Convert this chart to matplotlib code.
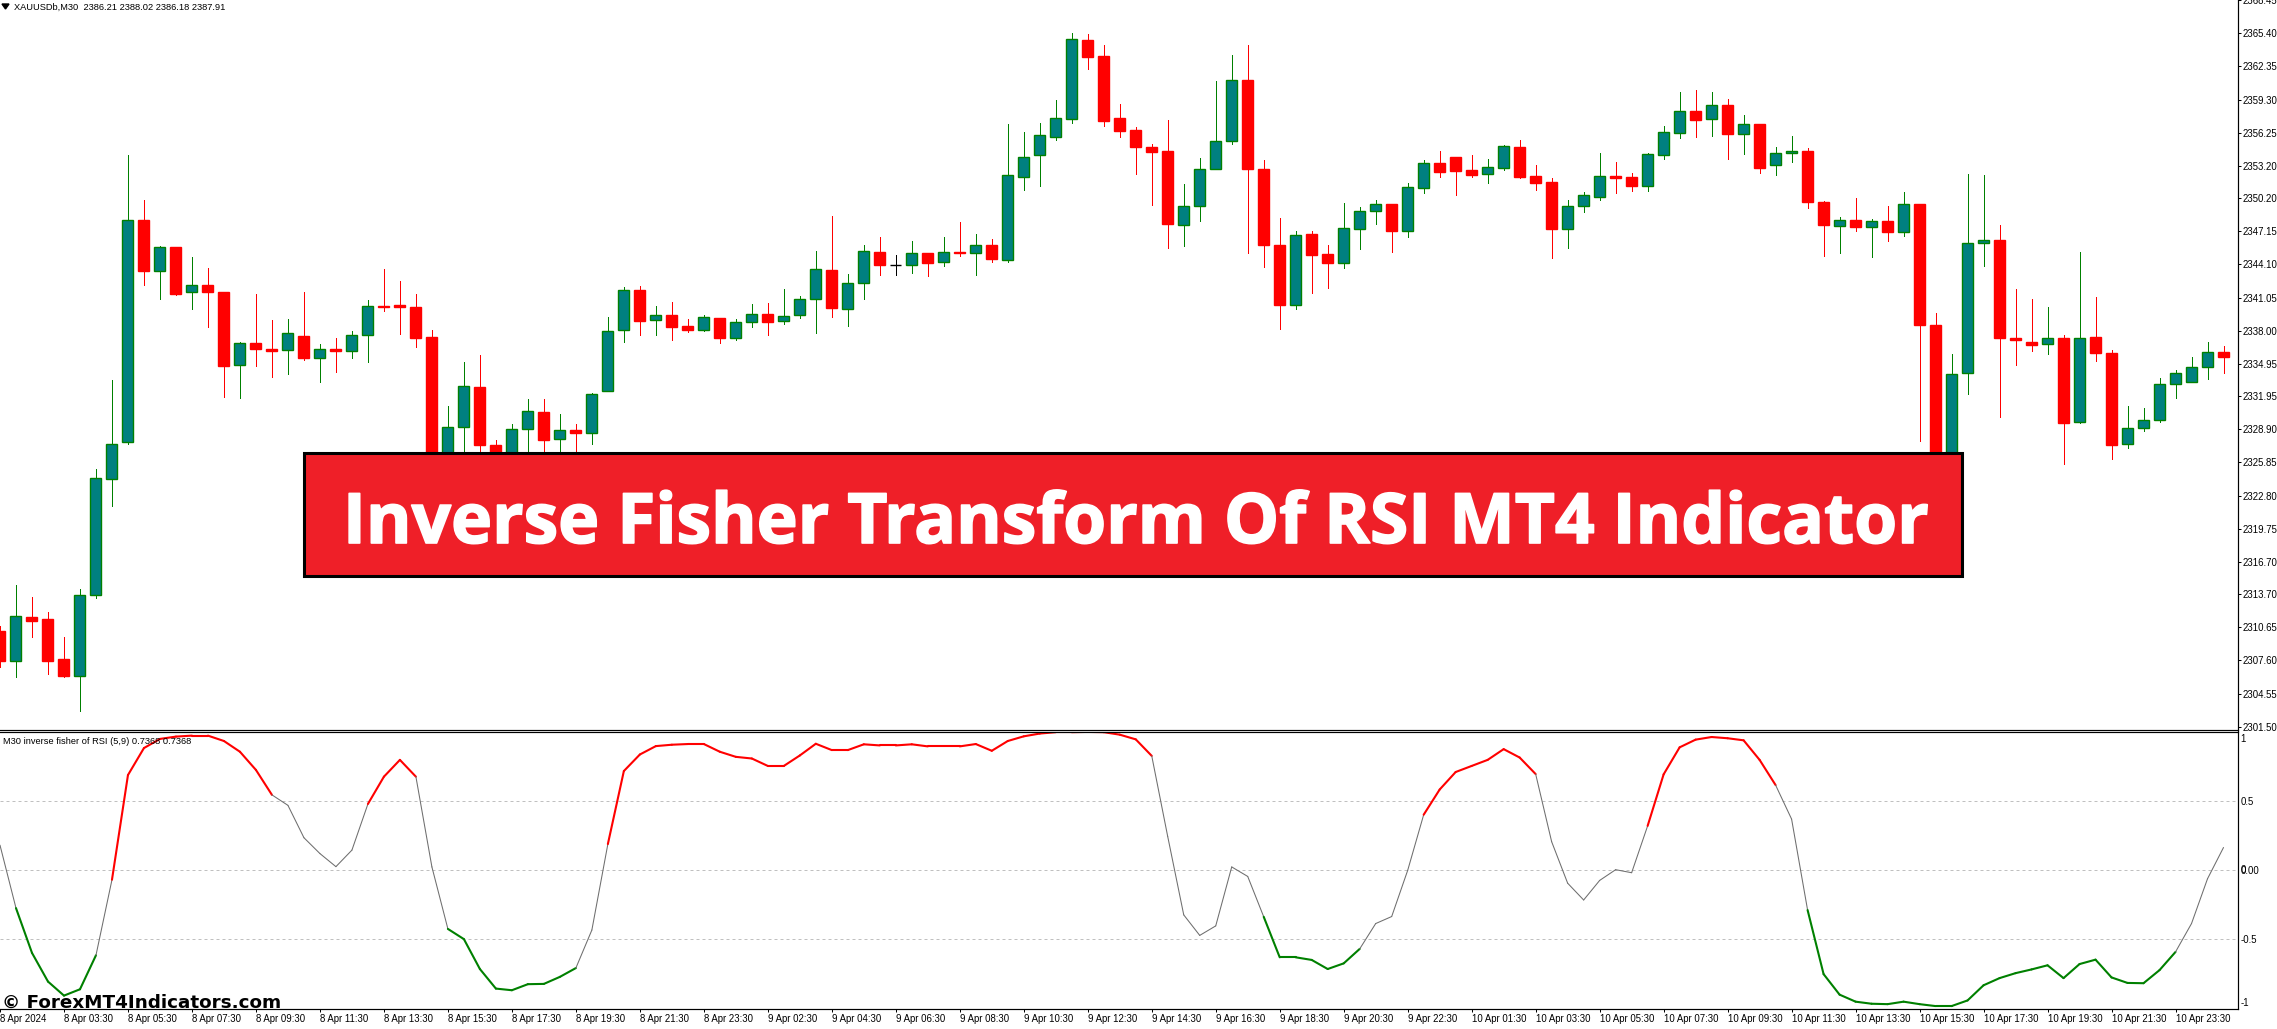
import matplotlib
matplotlib.use("Agg")
import matplotlib.pyplot as plt
import matplotlib.patheffects as pe
from matplotlib.patches import Rectangle

W, H = 2277, 1029

opens = [
 2310.32,2307.57,2311.57,2311.41,2307.73,2306.17,2313.60,2324.36,2327.71,2348.21,
 2343.45,2345.69,2341.52,2342.20,2341.55,2334.80,2336.85,2336.33,2336.18,2337.50,
 2335.44,2336.30,2336.09,2337.56,2340.29,2340.39,2340.20,2337.44,2325.00,2329.09,
 2332.83,2327.49,2326.00,2328.91,2330.50,2327.98,2328.84,2328.54,2332.40,2338.02,
 2341.74,2338.94,2339.43,2338.42,2338.08,2339.16,2337.28,2338.76,2339.56,2338.85,
 2339.40,2340.88,2343.58,2339.96,2342.35,2345.27,2344.04,2344.01,2345.14,2344.28,
 2345.23,2345.11,2345.88,2344.47,2352.20,2354.14,2355.89,2357.54,2364.76,2363.28,
 2357.60,2356.47,2354.93,2354.57,2347.69,2349.44,2352.94,2355.43,2361.07,2352.88,
 2345.88,2340.32,2346.89,2345.05,2344.19,2347.32,2348.98,2349.65,2347.14,2351.19,
 2353.43,2353.98,2352.79,2352.39,2353.00,2354.93,2352.23,2351.71,2347.32,2349.44,
 2350.36,2352.23,2352.14,2351.37,2354.23,2356.25,2358.22,2357.54,2358.77,2356.16,
 2357.02,2353.22,2354.41,2354.53,2349.84,2347.60,2348.18,2347.51,2348.09,2347.05,
 2349.65,2338.51,2325.50,2334.06,2346.03,2346.34,2337.32,2336.95,2336.73,2337.32,
 2329.55,2337.41,2335.93,2327.52,2328.99,2329.73,2333.05,2333.23,2334.61,2336.03]
highs = [
 2310.80,2314.56,2313.44,2312.07,2309.76,2314.16,2325.25,2333.48,2354.20,2350.05,
 2345.82,2345.69,2344.80,2343.79,2341.55,2336.98,2341.40,2339.00,2339.10,2341.58,
 2336.79,2337.35,2337.99,2340.84,2343.70,2342.60,2341.40,2338.08,2331.08,2335.13,
 2335.78,2327.95,2329.43,2331.73,2331.73,2330.35,2329.43,2332.25,2339.28,2342.04,
 2342.13,2340.29,2340.66,2339.10,2339.46,2339.16,2339.10,2340.48,2340.57,2341.86,
 2341.21,2345.36,2348.58,2343.24,2345.91,2346.65,2344.99,2346.28,2345.14,2346.65,
 2348.03,2346.92,2346.46,2357.05,2356.32,2357.14,2359.26,2365.43,2365.34,2364.33,
 2358.89,2356.78,2355.21,2357.42,2351.53,2353.92,2361.01,2363.41,2364.33,2353.74,
 2348.40,2347.20,2347.20,2345.91,2349.78,2349.41,2350.05,2349.65,2351.62,2353.74,
 2354.57,2353.98,2354.20,2353.83,2355.12,2355.58,2353.28,2352.08,2350.05,2350.79,
 2354.38,2353.55,2352.54,2354.38,2356.87,2360.00,2360.18,2360.00,2359.35,2357.88,
 2357.02,2354.93,2355.95,2354.84,2349.96,2348.49,2350.24,2348.30,2349.50,2350.79,
 2349.65,2339.65,2335.87,2352.45,2352.36,2347.75,2341.86,2340.94,2340.20,2337.59,
 2345.27,2341.12,2336.24,2331.08,2330.90,2333.66,2334.40,2335.60,2336.98,2336.61]
lows = [
 2307.00,2306.04,2309.76,2306.33,2306.04,2302.92,2313.40,2321.81,2327.59,2342.23,
 2340.94,2341.31,2340.02,2338.36,2331.91,2331.82,2334.77,2333.75,2334.03,2335.32,
 2333.30,2334.22,2335.50,2335.14,2339.83,2337.71,2336.52,2325.00,2324.00,2326.00,
 2326.94,2325.50,2325.50,2326.00,2326.00,2326.00,2326.00,2327.59,2332.40,2336.98,
 2337.62,2337.62,2337.16,2337.90,2337.99,2336.89,2337.16,2338.36,2337.62,2338.64,
 2339.19,2337.81,2339.28,2338.45,2340.94,2343.15,2343.15,2343.33,2343.06,2343.98,
 2344.90,2343.15,2344.34,2344.34,2350.97,2351.34,2355.58,2357.14,2362.12,2356.87,
 2355.85,2352.45,2349.59,2345.63,2345.82,2348.12,2352.94,2355.21,2345.17,2343.88,
 2338.18,2340.02,2341.49,2341.95,2343.79,2345.54,2347.84,2345.27,2346.65,2350.70,
 2352.17,2350.51,2352.17,2351.62,2352.82,2352.08,2350.97,2344.71,2345.63,2348.95,
 2350.05,2350.70,2350.88,2350.88,2353.83,2355.76,2355.85,2355.95,2353.83,2354.29,
 2352.54,2352.36,2353.55,2349.32,2344.90,2345.17,2347.20,2344.80,2346.28,2346.74,
 2327.86,2324.00,2325.00,2332.19,2343.98,2330.07,2334.86,2336.15,2335.87,2325.74,
 2329.46,2335.23,2326.20,2327.22,2328.78,2329.61,2331.82,2333.23,2333.57,2334.12]
closes = [
 2307.57,2311.66,2311.26,2307.57,2306.14,2313.60,2324.42,2327.55,2348.21,2343.45,
 2345.69,2341.40,2342.20,2341.52,2334.71,2336.85,2336.27,2336.15,2337.78,2335.44,
 2336.30,2336.09,2337.59,2340.26,2340.14,2340.14,2337.35,2325.50,2329.12,2332.90,
 2327.43,2326.00,2328.94,2330.59,2327.89,2328.84,2328.54,2332.16,2337.96,2341.74,
 2338.91,2339.43,2338.36,2338.08,2339.25,2337.28,2338.79,2339.53,2338.82,2339.34,
 2340.91,2343.67,2340.05,2342.38,2345.33,2344.01,2344.04,2345.14,2344.19,2345.23,
 2345.11,2345.88,2344.56,2352.32,2353.98,2356.01,2357.57,2364.85,2363.25,2357.36,
 2356.44,2354.96,2354.50,2347.87,2349.47,2352.88,2355.46,2361.07,2352.85,2345.85,
 2340.32,2346.80,2344.99,2344.19,2347.44,2349.01,2349.65,2347.14,2351.22,2353.43,
 2352.63,2352.72,2352.36,2353.06,2354.99,2352.20,2351.65,2347.32,2349.47,2350.48,
 2352.23,2352.11,2351.37,2354.26,2356.28,2358.22,2357.45,2358.77,2356.16,2357.02,
 2353.03,2354.35,2354.53,2349.81,2347.69,2348.18,2347.51,2348.09,2347.05,2349.65,
 2338.48,2325.50,2334.00,2346.06,2346.34,2337.28,2337.10,2336.64,2337.32,2329.46,
 2337.32,2335.90,2327.43,2329.03,2329.76,2333.08,2334.09,2334.64,2336.03,2335.60]
fisher = [
 0.178,-0.279,-0.604,-0.812,-0.914,-0.868,-0.621,-0.073,0.687,0.883,
 0.949,0.966,0.973,0.973,0.934,0.856,0.724,0.543,0.467,0.232,
 0.117,0.022,0.142,0.477,0.675,0.797,0.675,0.020,-0.430,-0.504,
 -0.721,-0.863,-0.875,-0.831,-0.829,-0.778,-0.714,-0.438,0.186,0.716,
 0.836,0.897,0.907,0.912,0.912,0.856,0.819,0.807,0.753,0.753,
 0.829,0.914,0.868,0.868,0.910,0.902,0.902,0.910,0.895,0.895,
 0.895,0.912,0.863,0.934,0.968,0.988,0.998,0.998,1.000,0.998,
 0.980,0.946,0.826,0.240,-0.328,-0.477,-0.408,0.020,-0.049,-0.342,
 -0.636,-0.636,-0.655,-0.721,-0.680,-0.575,-0.391,-0.340,-0.005,0.399,
 0.582,0.709,0.753,0.797,0.875,0.814,0.694,0.203,-0.098,-0.220,
 -0.078,0.000,-0.022,0.318,0.692,0.888,0.944,0.963,0.954,0.939,
 0.797,0.614,0.367,-0.293,-0.758,-0.907,-0.958,-0.973,-0.976,-0.958,
 -0.976,-0.990,-0.990,-0.949,-0.839,-0.787,-0.751,-0.724,-0.694,-0.787,
 -0.685,-0.653,-0.782,-0.822,-0.824,-0.729,-0.597,-0.391,-0.066,0.161]
price_labels = ["2368.45","2365.40","2362.35","2359.30","2356.25","2353.20","2350.20","2347.15",
 "2344.10","2341.05","2338.00","2334.95","2331.95","2328.90","2325.85","2322.80",
 "2319.75","2316.70","2313.70","2310.65","2307.60","2304.55","2301.50"]
time_labels = ["8 Apr 2024","8 Apr 03:30","8 Apr 05:30","8 Apr 07:30","8 Apr 09:30","8 Apr 11:30",
 "8 Apr 13:30","8 Apr 15:30","8 Apr 17:30","8 Apr 19:30","8 Apr 21:30","8 Apr 23:30",
 "9 Apr 02:30","9 Apr 04:30","9 Apr 06:30","9 Apr 08:30","9 Apr 10:30","9 Apr 12:30",
 "9 Apr 14:30","9 Apr 16:30","9 Apr 18:30","9 Apr 20:30","9 Apr 22:30","10 Apr 01:30",
 "10 Apr 03:30","10 Apr 05:30","10 Apr 07:30","10 Apr 09:30","10 Apr 11:30","10 Apr 13:30",
 "10 Apr 15:30","10 Apr 17:30","10 Apr 19:30","10 Apr 21:30","10 Apr 23:30"]
title_text = "Inverse Fisher Transform Of RSI MT4 Indicator"
chart_text = "XAUUSDb,M30  2386.21 2388.02 2386.18 2387.91"
ind_text = "M30 inverse fisher of RSI (5,9) 0.7368 0.7368"
mark_text = "\u00a9 ForexMT4Indicators.com"

RED, GREEN, TEAL = "#FF0000", "#008000", "#008080"
PX = 0.72
plt.rcParams["font.family"] = ["Liberation Sans", "DejaVu Sans"]
plt.rcParams["font.size"] = 6.9

fig = plt.figure(figsize=(W / 100, H / 100), dpi=100, facecolor="white")

def box(l, t, r, b):
    return [l / W, 1 - b / H, (r - l) / W, (b - t) / H]

RIGHT = 2237.5
ax = fig.add_axes(box(0, 0, RIGHT, 729.5))
ai = fig.add_axes(box(0, 731.5, RIGHT, 1008.7))
xlim = ((0 + 0.5) / 16, (RIGHT + 0.5) / 16)

# candles
for i, (o, h, l, c) in enumerate(zip(opens, highs, lows, closes)):
    if o == c:
        ec, fc = "black", "black"
    elif c > o:
        ec, fc = GREEN, TEAL
    else:
        ec, fc = RED, RED
    ax.vlines(i, l, h, color=ec, lw=PX, antialiased=False, zorder=2)
    ax.bar(i, c - o, bottom=o, width=10.5 / 16, facecolor=fc, edgecolor=ec, lw=1.0, zorder=3)
ax.set_xlim(*xlim)
ax.set_ylim(2301.24, 2368.47)
ax.set_yticks([float(s) for s in price_labels], price_labels)
ax.set_xticks([])

# indicator
ai.set_xlim(*xlim)
ai.set_ylim(-1.009, 1.003)
for lv in (0.5, 0, -0.5):
    ai.axhline(lv, color="#C0C0C0", lw=PX, ls=(0, (3, 3)), zorder=1)
xs = list(range(len(fisher)))
for i in range(1, len(fisher)):
    v = fisher[i]
    if v > 0.5:
        col, lw = RED, 1.5
    elif v < -0.5:
        col, lw = GREEN, 1.5
    else:
        col, lw = "#6E6E6E", 0.75
    ai.plot(xs[i - 1:i + 1], fisher[i - 1:i + 1], color=col, lw=lw, solid_capstyle="round", zorder=2)
ind_ticks = [0.956, 0.5, 0.0, -0.5, -0.961]
ai.set_yticks(ind_ticks, ["1", "0.5", "0.00", "-0.5", "-1"])
ai.set_xticks(list(range(0, 4 * len(time_labels), 4)), time_labels, ha="left")

for a in (ax, ai):
    a.yaxis.tick_right()
    a.spines["left"].set_visible(False)
    for s in ("top", "right", "bottom"):
        a.spines[s].set_linewidth(PX * 1.2)
ax.tick_params(axis="y", length=2.5, width=PX, pad=1.5, labelsize=6.9)
ai.tick_params(axis="y", length=0, pad=1.9, labelsize=6.9)
ai.tick_params(axis="x", length=2.2, width=PX, pad=1.5, labelsize=6.9)
ax.spines["top"].set_visible(False)

def ftext(x, y, s, **kw):
    return fig.text(x / W, 1 - y / H, s, **kw)

# overlapping zero label of the two scales, as in the reference
ftext(2240.2, 869.7, "0", va="center", ha="left", fontsize=6.9)

# header texts
fig.add_artist(plt.Polygon([[2 / W, 1 - 4 / H], [9 / W, 1 - 4 / H], [5.5 / W, 1 - 9 / H]],
                           closed=True, color="black", transform=fig.transFigure))
ftext(14, 7, chart_text, va="center", ha="left", fontsize=6.7)
ftext(3, 741.5, ind_text, va="center", ha="left", fontsize=6.7, zorder=5)

# banner
fig.add_artist(Rectangle((304 / W, 1 - 576 / H), (1962 - 304) / W, (576 - 453) / H,
                         transform=fig.transFigure, facecolor="#EF1F28", edgecolor="black",
                         lw=2.2, zorder=6))
ftext(1136, 516.5, title_text, color="white", fontweight="bold", fontsize=50, ha="center",
      va="center_baseline", zorder=7, family=["Open Sans", "Liberation Sans"],
      path_effects=[pe.withStroke(linewidth=1.2, foreground="white")])
ftext(2.5, 1003, mark_text, color="black", fontweight="bold", fontsize=13.2, ha="left",
      va="center", zorder=7, family=["DejaVu Sans"])

fig.savefig("out.png", dpi=100, facecolor="white")
